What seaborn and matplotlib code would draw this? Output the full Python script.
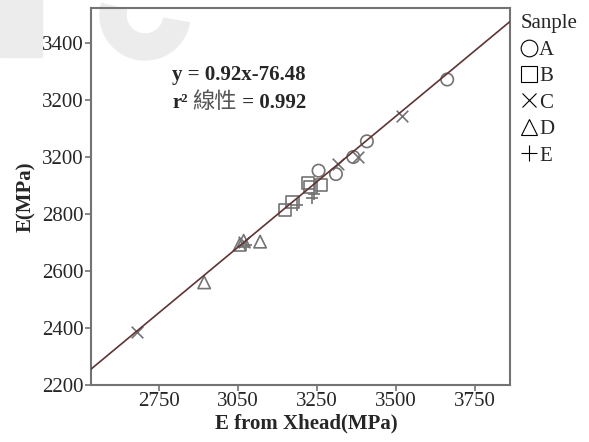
import numpy as np
import matplotlib
matplotlib.use("Agg")
import matplotlib.pyplot as plt
import seaborn as sns
from matplotlib.lines import Line2D
from matplotlib.patches import Rectangle, Wedge
from matplotlib.transforms import IdentityTransform

# values
samples = ["A", "B", "C", "D", "E"]
a_x = [3255, 3310, 3365, 3408, 3662]
a_y = [2952, 2940, 3000, 3055, 3272]
b_x = [3148, 3172, 3222, 3230, 3262]
b_y = [2815, 2843, 2908, 2895, 2902]
c_x = [2680, 3020, 3318, 3380, 3518]
c_y = [2387, 2702, 2975, 3001, 3143]
d_x = [2893, 3005, 3018, 3070]
d_y = [2560, 2692, 2706, 2703]
e_x = [3025, 3186, 3233, 3240]
e_y = [2690, 2830, 2855, 2870]

slope = 0.92
intercept = -76.48

xticks = [2750, 3000, 3250, 3500, 3750]
xtick_labels = ["2750", "3050", "3250", "3500", "3750"]
yticks = [2200, 2400, 2600, 2800, 3000, 3200, 3400]
ytick_labels = ["2200", "2400", "2600", "2800", "3200", "3200", "3400"]

sns.set_style("white")
plt.rcParams["font.family"] = ["Liberation Serif", "Noto Sans CJK TC"]

fig = plt.figure(figsize=(5.89, 4.42), dpi=100)
ax = fig.add_axes([0.154, 0.129, 0.712, 0.853])
ax.patch.set_alpha(0)

# faint watermark shapes left over in the scanned figure (pixel coords)
wm = "#ececec"
fig.patches.append(Rectangle((0, 385), 42, 60, transform=IdentityTransform(),
                             color=wm, zorder=-5))
fig.patches.append(Wedge((145, 427), 45, 165, 350, width=26, transform=IdentityTransform(),
                         color=wm, zorder=-5))

gray = "#737373"
groups = [(a_x, a_y, "o"), (b_x, b_y, "s"), (c_x, c_y, "x"), (d_x, d_y, "^"), (e_x, e_y, "+")]
for xs, ys, m in groups:
    if m in ("x", "+"):
        sns.scatterplot(x=xs, y=ys, marker=m, color=gray, s=70, linewidth=1.2, ax=ax, zorder=3)
    else:
        sns.scatterplot(x=xs, y=ys, marker=m, facecolors="none", edgecolor=gray, s=80,
                        linewidth=1.2, ax=ax, zorder=3)

ax.set_xlim(2534, 3861)
ax.set_ylim(2200, 3523)
fit_x = np.array(ax.get_xlim())
sns.lineplot(x=fit_x, y=slope * fit_x + intercept, color="#5e3434", linewidth=1.2, ax=ax, zorder=4)

ax.set_xticks(xticks)
ax.set_xticklabels(xtick_labels)
ax.set_yticks(yticks)
ax.set_yticklabels(ytick_labels)
ax.tick_params(axis="both", labelsize=15, length=4, width=1.2, color=gray, pad=1,
               direction="out", bottom=True, left=True)
for sp in ax.spines.values():
    sp.set_color(gray)
    sp.set_linewidth(1.5)

ax.set_xlabel("E from Xhead(MPa)", fontsize=15, fontweight="bold", labelpad=2)
ax.xaxis.set_label_coords(0.515, -0.075)
ax.set_ylabel("E(MPa)", fontsize=15, fontweight="bold", labelpad=4)

ax.text(0.195, 0.809, "y = 0.92x-76.48", transform=ax.transAxes, fontsize=15,
        fontweight="bold", va="baseline")
t1 = ax.text(0.195, 0.735, "r\u00b2", transform=ax.transAxes, fontsize=15,
             fontweight="bold", va="baseline")
t2 = ax.annotate("線性", xy=(1, 0), xytext=(3, 0), textcoords="offset points", xycoords=t1,
                 fontsize=16, color="#555555", va="bottom", family=["Noto Sans CJK TC"])
ax.annotate(" = 0.992", xy=(1, 0), xycoords=t2, fontsize=15, fontweight="bold", va="bottom")

handles = [
    Line2D([], [], marker="o", ls="none", mfc="none", mec="black", ms=12, mew=0.8),
    Line2D([], [], marker="s", ls="none", mfc="none", mec="black", ms=11, mew=0.8),
    Line2D([], [], marker="x", ls="none", color="black", ms=10, mew=0.8),
    Line2D([], [], marker="^", ls="none", mfc="none", mec="black", ms=12, mew=0.8),
    Line2D([], [], marker="+", ls="none", color="black", ms=12, mew=0.8),
]
leg = ax.legend(handles, samples, title="Sanple", loc="upper left", bbox_to_anchor=(1.005, 1.005),
                frameon=False, fontsize=15, title_fontsize=15, handlelength=0.8,
                handletextpad=0.1, labelspacing=0.33, borderaxespad=0.3, borderpad=0.1)
leg._legend_box.align = "left"

fig.savefig("out.png", dpi=100)
